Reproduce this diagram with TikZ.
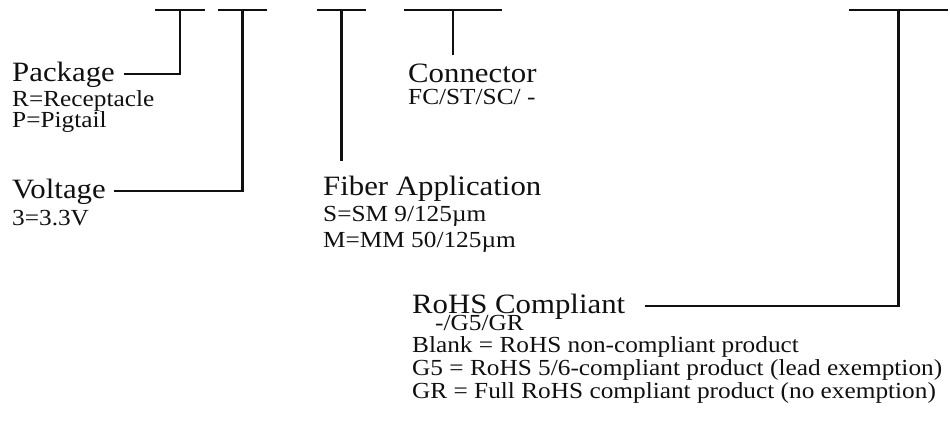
\documentclass[tikz,border=0pt]{standalone}
\usepackage{fontspec}
\setmainfont{Liberation Serif}[FakeStretch=1.1]
\usetikzlibrary{calc}
\newcommand{\Rule}{2.2pt}
\newcommand{\BarY}{10}
\newcommand{\TitleFont}{\fontsize{28}{28}\selectfont}
\newcommand{\NoteFont}{\fontsize{23}{23}\selectfont}
\definecolor{ink}{HTML}{101010}

\tikzset{
  title/.style={anchor=base west, inner sep=0pt, font=\TitleFont, text=ink},
  note/.style={anchor=base west, inner sep=0pt, font=\NoteFont, text=ink},
  lead/.style={draw=ink, line width=\Rule},
}

\begin{document}
\begin{tikzpicture}[x=1pt,y=-1pt, line join=miter, line cap=butt]
  \useasboundingbox (0,0) rectangle (950,429);

  % ---- the code bars along the top ---------------------------------------
  \foreach \l/\r/\n in {155/205/b1, 218/267/b2, 317/366/b3, 404/502/b4, 849/948/b5} {
    \draw[lead] (\l,\BarY) -- (\r,\BarY);
    \coordinate (\n) at ({(\l+\r)/2},\BarY);
  }

  % ---- package -------------------------------------------------------------
  \node[title] (pkg)  at (12,81)  {Package};
  \node[note]  (pkgR) at (12,106) {R=Receptacle};
  \node[note]  (pkgP) at (12,127) {P=Pigtail};
  \draw[lead, shorten <=8.5pt] (pkg.east) -| (b1);

  % ---- voltage -------------------------------------------------------------
  \node[title] (volt)  at (12,198) {Voltage};
  \node[note]  (voltA) at (12,225) {3=3.3V};
  \draw[lead, shorten <=8.5pt] (volt.east) -| (b2);

  % ---- fiber application ---------------------------------------------------
  \node[title] (fib)  at (323,195) {Fiber Application};
  \node[note]  (fibS) at (323,221) {S=SM 9/125µm};
  \node[note]  (fibM) at (323,247) {M=MM 50/125µm};
  \draw[lead, shorten >=14pt] (b3) -- (b3 |- fib.north);

  % ---- connector -----------------------------------------------------------
  \node[title] (con)  at (408,82)  {Connector};
  \node[note]  (conT) at (408,104) {FC/ST/SC/ -};
  \draw[lead, shorten >=8pt] (b4) -- (b4 |- con.north);

  % ---- RoHS ----------------------------------------------------------------
  \node[title] (rohs)  at (412,313) {RoHS Compliant};
  \node[note]  (rohsC) at (435,330) {-/G5/GR};
  \node[note]  (rohsB) at (412,352) {Blank = RoHS non-compliant product};
  \node[note]  (rohs5) at (412,375) {G5 = RoHS 5/6-compliant product (lead exemption)};
  \node[note]  (rohsR) at (412,398) {GR = Full RoHS compliant product (no exemption)};
  \draw[lead, shorten <=20pt] (rohs.east) -| (b5);

\end{tikzpicture}
\end{document}
